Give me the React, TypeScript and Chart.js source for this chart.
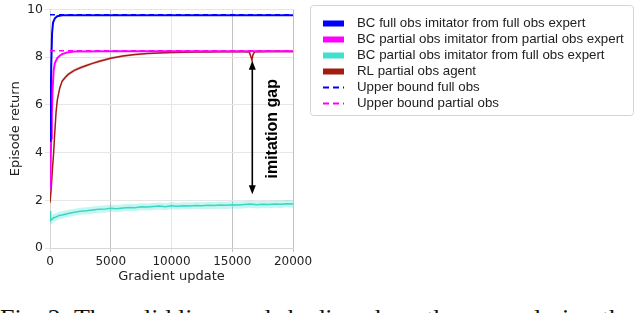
import React, { useEffect, useRef } from "react";
import { Chart, registerables } from "chart.js";

Chart.register(...registerables);

// ---------- data ----------
const fullBcX = [0, 50, 100, 170, 250, 400, 600, 1000, 2000, 5000, 10000, 15000, 20000];
const fullBcY = [4.5, 6.2, 7.6, 9.0, 9.45, 9.63, 9.72, 9.76, 9.76, 9.76, 9.76, 9.76, 9.76];

const partialBcX = [0, 50, 100, 150, 200, 300, 400, 600, 800, 1000, 1400, 2000, 5000, 10000, 15000, 20000];
const partialBcY = [2.5, 3.5, 4.6, 5.6, 6.5, 7.45, 7.75, 7.96, 8.06, 8.13, 8.2, 8.24, 8.25, 8.25, 8.25, 8.25];

const tealX = [0, 50, 100, 200, 300, 500, 750, 1000, 1500, 2000, 2500, 3000, 3500, 4000, 4500, 5000, 5500, 6000, 6500, 7000, 7500, 8000, 8500, 9000, 9500, 10000, 10500, 11000, 11500, 12000, 12500, 13000, 13500, 14000, 14500, 15000, 15500, 16000, 16500, 17000, 17500, 18000, 18500, 19000, 19500, 20000];
const tealY = [1.55, 1.15, 1.18, 1.22, 1.27, 1.3, 1.36, 1.38, 1.45, 1.5, 1.54, 1.56, 1.59, 1.62, 1.63, 1.67, 1.65, 1.68, 1.7, 1.69, 1.73, 1.72, 1.74, 1.76, 1.73, 1.77, 1.75, 1.77, 1.76, 1.78, 1.77, 1.79, 1.78, 1.8, 1.79, 1.81, 1.8, 1.82, 1.84, 1.81, 1.83, 1.82, 1.84, 1.83, 1.86, 1.84];
const tealSpread = [0.2, 0.2, 0.19, 0.18, 0.17, 0.16, 0.16, 0.15, 0.15, 0.15, 0.15, 0.15, 0.15, 0.15, 0.15, 0.15, 0.15, 0.15, 0.15, 0.15, 0.15, 0.15, 0.15, 0.15, 0.15, 0.15, 0.15, 0.15, 0.15, 0.15, 0.15, 0.15, 0.15, 0.15, 0.15, 0.15, 0.15, 0.15, 0.15, 0.15, 0.15, 0.15, 0.15, 0.15, 0.15, 0.15];

const rlX = [0, 100, 200, 300, 400, 500, 600, 800, 1000, 1250, 1500, 2000, 2500, 3000, 3500, 4000, 5000, 6000, 7000, 8000, 9000, 10000, 11000, 12000, 13000, 14000, 15000, 16000, 16400, 16550, 16620, 16700, 16850, 17000, 18000, 19000, 20000];
const rlY = [1.9, 2.5, 3.3, 4.0, 4.9, 5.7, 6.2, 6.7, 7.0, 7.15, 7.28, 7.45, 7.56, 7.65, 7.74, 7.82, 7.96, 8.05, 8.11, 8.15, 8.18, 8.2, 8.21, 8.22, 8.22, 8.23, 8.23, 8.23, 8.22, 8.0, 7.88, 8.1, 8.23, 8.23, 8.24, 8.24, 8.24];
const rlSpread = [0.1, 0.12, 0.12, 0.12, 0.12, 0.1, 0.1, 0.09, 0.08, 0.08, 0.08, 0.07, 0.07, 0.06, 0.06, 0.06, 0.05, 0.05, 0.05, 0.04, 0.04, 0.04, 0.04, 0.04, 0.04, 0.04, 0.04, 0.04, 0.04, 0.1, 0.12, 0.08, 0.04, 0.04, 0.04, 0.04, 0.04];

const upperBoundFull = 9.78;
const upperBoundPartial = 8.27;
const xRange = [0, 20000];

const legendLabels = [
  "BC full obs imitator from full obs expert",
  "BC partial obs imitator from partial obs expert",
  "BC partial obs imitator from full obs expert",
  "RL partial obs agent",
  "Upper bound full obs",
  "Upper bound partial obs",
];
const legendColors = ["#0000ff", "#ff00ff", "#40e0d0", "#a11d12", "#0000ff", "#ff00ff"];
const legendDashed = [false, false, false, false, true, true];

const gapArrowX = 16650;
const gapArrowTop = 7.85;
const gapArrowBottom = 2.25;
const gapLabel = "imitation gap";
const gapLabelX = 18300;
const gapLabelY = 5.0;

const captionText = "Fig. 2: The solid lines and shading show the mean during the training of";

// ---------- helpers ----------
const pts = (xs: number[], ys: number[]) => xs.map((x, i) => ({ x, y: ys[i] }));
const band = (xs: number[], ys: number[], s: number[], sign: number) =>
  xs.map((x, i) => ({ x, y: ys[i] + sign * s[i] }));

const legendPlugin = {
  id: "boxLegend",
  afterDraw(chart: any) {
    const ctx = chart.ctx;
    ctx.save();
    const bx = 310.5, by = 5.5, bw = 323, bh = 110, r = 3;
    ctx.beginPath();
    ctx.moveTo(bx + r, by);
    ctx.lineTo(bx + bw - r, by);
    ctx.quadraticCurveTo(bx + bw, by, bx + bw, by + r);
    ctx.lineTo(bx + bw, by + bh - r);
    ctx.quadraticCurveTo(bx + bw, by + bh, bx + bw - r, by + bh);
    ctx.lineTo(bx + r, by + bh);
    ctx.quadraticCurveTo(bx, by + bh, bx, by + bh - r);
    ctx.lineTo(bx, by + r);
    ctx.quadraticCurveTo(bx, by, bx + r, by);
    ctx.closePath();
    ctx.fillStyle = "rgba(255,255,255,0.9)";
    ctx.fill();
    ctx.strokeStyle = "#d4d4d4";
    ctx.lineWidth = 1;
    ctx.stroke();
    ctx.font = '13.3px "Liberation Sans", Arial, sans-serif';
    ctx.textBaseline = "middle";
    ctx.textAlign = "left";
    legendLabels.forEach((lab, i) => {
      const y = 23.5 + i * 16;
      ctx.strokeStyle = legendColors[i];
      ctx.fillStyle = legendColors[i];
      if (legendDashed[i]) {
        ctx.lineWidth = 1.8;
        ctx.setLineDash([6, 4]);
        ctx.beginPath();
        ctx.moveTo(323, y);
        ctx.lineTo(344, y);
        ctx.stroke();
        ctx.setLineDash([]);
      } else {
        ctx.fillRect(323, y - 3, 21, 6);
      }
      ctx.fillStyle = "#222";
      ctx.fillText(lab, 357, y);
    });
    ctx.restore();
  },
};

const gapPlugin = {
  id: "gapArrow",
  afterDatasetsDraw(chart: any) {
    const ctx = chart.ctx;
    const xs = chart.scales.x;
    const ys = chart.scales.y;
    const x = xs.getPixelForValue(gapArrowX);
    const yt = ys.getPixelForValue(gapArrowTop);
    const yb = ys.getPixelForValue(gapArrowBottom);
    const hl = 9, hw = 3.5;
    ctx.save();
    ctx.strokeStyle = "#000";
    ctx.fillStyle = "#000";
    ctx.lineWidth = 1.6;
    ctx.beginPath();
    ctx.moveTo(x, yt + hl - 1);
    ctx.lineTo(x, yb - hl + 1);
    ctx.stroke();
    ctx.beginPath();
    ctx.moveTo(x, yt);
    ctx.lineTo(x - hw, yt + hl);
    ctx.lineTo(x + hw, yt + hl);
    ctx.closePath();
    ctx.fill();
    ctx.beginPath();
    ctx.moveTo(x, yb);
    ctx.lineTo(x - hw, yb - hl);
    ctx.lineTo(x + hw, yb - hl);
    ctx.closePath();
    ctx.fill();
    const lx = xs.getPixelForValue(gapLabelX);
    const ly = ys.getPixelForValue(gapLabelY);
    ctx.translate(lx, ly);
    ctx.rotate(-Math.PI / 2);
    ctx.font = 'bold 16px "Liberation Sans", Arial, sans-serif';
    ctx.textAlign = "center";
    ctx.textBaseline = "middle";
    ctx.fillText(gapLabel, 0, 0);
    ctx.restore();
  },
};

export default function App() {
  const ref = useRef<HTMLCanvasElement | null>(null);
  useEffect(() => {
    if (!ref.current) return;
    const common = { pointRadius: 0, pointHoverRadius: 0, tension: 0 };
    const chart = new Chart(ref.current, {
      type: "line",
      data: {
        datasets: [
          { ...common, label: legendLabels[4], data: pts(xRange, [upperBoundFull, upperBoundFull]), borderColor: "#0000ff", borderWidth: 1.5, borderDash: [5, 4], fill: false },
          { ...common, label: legendLabels[5], data: pts(xRange, [upperBoundPartial, upperBoundPartial]), borderColor: "#ff00ff", borderWidth: 1.5, borderDash: [5, 4], fill: false },
          { ...common, label: legendLabels[0], data: pts(fullBcX, fullBcY), borderColor: "#0000ff", borderWidth: 2, fill: false },
          { ...common, label: legendLabels[1], data: pts(partialBcX, partialBcY), borderColor: "#ff00ff", borderWidth: 2, fill: false },
          { ...common, label: legendLabels[3], data: pts(rlX, rlY), borderColor: "#a11d12", borderWidth: 1.5, fill: false },
          { ...common, label: legendLabels[2], data: pts(tealX, tealY), borderColor: "#3cd6c2", borderWidth: 1.5, fill: false },
          { ...common, label: "rl upper", data: band(rlX, rlY, rlSpread, 1), borderWidth: 0, borderColor: "rgba(0,0,0,0)", fill: false },
          { ...common, label: "rl lower", data: band(rlX, rlY, rlSpread, -1), borderWidth: 0, borderColor: "rgba(0,0,0,0)", backgroundColor: "rgba(200,80,80,0.3)", fill: "-1" },
          { ...common, label: "teal upper", data: band(tealX, tealY, tealSpread, 1), borderWidth: 0, borderColor: "rgba(0,0,0,0)", fill: false },
          { ...common, label: "teal lower", data: band(tealX, tealY, tealSpread, -1), borderWidth: 0, borderColor: "rgba(0,0,0,0)", backgroundColor: "rgba(64,224,208,0.3)", fill: "-1" },
        ],
      },
      options: {
        animation: false,
        responsive: false,
        events: [],
        layout: { padding: { left: 0, right: 347, top: 0, bottom: 0 } },
        plugins: { legend: { display: false }, tooltip: { enabled: false } },
        scales: {
          x: {
            type: "linear",
            min: 0,
            max: 20000,
            afterFit: (s: any) => { s.height = 42; },
            ticks: { stepSize: 5000, padding: 3, color: "#222", font: { family: "DejaVu Sans", size: 12 }, callback: (v: any) => String(v) },
            grid: {
              color: (c: any) => (c.tick && [5000, 15000, 20000].includes(c.tick.value) ? "#c2c2c2" : "#e6e6e6"),
              tickLength: 4,
            },
            border: { color: "#d6d6d6" },
            title: { display: true, text: "Gradient update", color: "#222", font: { family: "DejaVu Sans", size: 13 }, padding: { top: 0, bottom: 6 } },
          },
          y: {
            min: 0,
            max: 10,
            afterFit: (s: any) => { s.width = 50; },
            ticks: { stepSize: 2, padding: 2, color: "#222", font: { family: "DejaVu Sans", size: 12.5 } },
            grid: { color: "#e6e6e6", tickLength: 5 },
            border: { color: "#d6d6d6" },
            title: { display: true, text: "Episode return", color: "#222", font: { family: "DejaVu Sans", size: 13 }, padding: { top: 8, bottom: 0 } },
          },
        },
      },
      plugins: [gapPlugin, legendPlugin],
    } as any);
    return () => chart.destroy();
  }, []);

  return (
    <div style={{ position: "fixed", left: 0, top: 0, width: 640, height: 313, overflow: "hidden", background: "#fff" }}>
      <canvas ref={ref} width={640} height={290} style={{ position: "absolute", left: 0, top: 0, width: 640, height: 290 }} />
      <div
        style={{
          position: "absolute",
          left: 0,
          top: 306,
          whiteSpace: "nowrap",
          fontFamily: '"Liberation Serif", serif',
          fontSize: 26,
          lineHeight: "26px",
          color: "#111",
        }}
      >
        {captionText}
      </div>
    </div>
  );
}
